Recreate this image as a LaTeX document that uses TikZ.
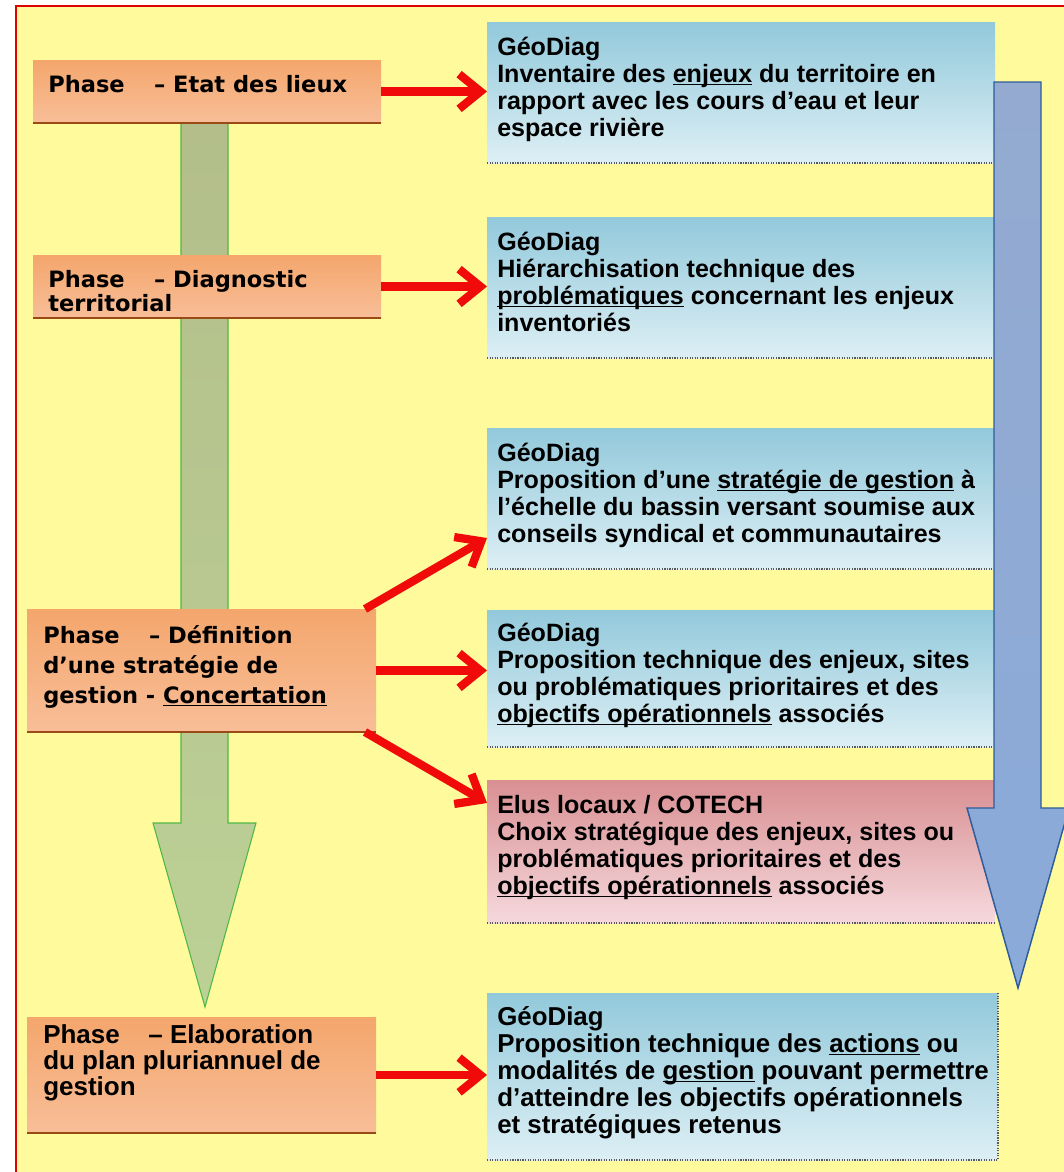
\documentclass[tikz,border=0pt]{standalone}
\usepackage{fontspec}
\setmainfont{Liberation Sans}
\newfontfamily\dvs{DejaVu Sans}
\usetikzlibrary{arrows.meta,fit,calc}
\newcommand\uln[1]{\underline{\smash{#1}}}
\definecolor{bg}{HTML}{FFFB9C}
\definecolor{framered}{HTML}{E00000}
\definecolor{arrred}{HTML}{F00A0A}
\definecolor{otop}{HTML}{F4A66C}
\definecolor{omid}{HTML}{F08636}
\definecolor{obot}{HTML}{F8BE98}
\definecolor{oline}{HTML}{9A4A14}
\definecolor{bd}{HTML}{92C9DB}
\definecolor{bl}{HTML}{DDEFF5}
\definecolor{pd}{HTML}{D98F92}
\definecolor{pl}{HTML}{F5D9DD}
\definecolor{gtop}{HTML}{B3BE8A}
\definecolor{gmid}{HTML}{9CC062}
\definecolor{gbot}{HTML}{BCD196}
\definecolor{gline}{HTML}{4DB848}
\definecolor{btop}{HTML}{94AAD0}
\definecolor{bmid}{HTML}{5082C5}
\definecolor{bbot}{HTML}{8AAAD9}
\definecolor{bline}{HTML}{2E5C9A}
\tikzset{
  obox/.style={inner sep=0pt, outer sep=0pt, top color=otop, middle color=omid, bottom color=obot},
  bbox/.style={inner sep=0pt, outer sep=0pt, top color=bd, middle color=bd!35!bl, bottom color=bl},
  pbox/.style={inner sep=0pt, outer sep=0pt, top color=pd, middle color=pd!45!pl, bottom color=pl},
  obottom/.style={draw=oline, line width=1.6pt},
  dotedge/.style={draw=black!65, densely dotted, line width=0.9pt},
  otxt/.style={inner sep=0pt, align=left, font=\dvs\bfseries\fontsize{16.9}{22.5}\selectfont},
  otxtc/.style={inner sep=0pt, align=left, font=\dvs\bfseries\fontsize{16.9}{18}\selectfont},
  otxtb/.style={inner sep=0pt, align=left, font=\bfseries\fontsize{19.5}{19.5}\selectfont},
  btxt/.style={inner sep=0pt, align=left, font=\bfseries\fontsize{18.8}{20.25}\selectfont},
  btxtb/.style={inner sep=0pt, align=left, font=\bfseries\fontsize{19.4}{20.25}\selectfont},
  redarr/.style={draw=arrred, line width=6.2pt, -{Straight Barb[length=16pt,width=26pt]}},
}
\begin{document}
\begin{tikzpicture}[x=0.75pt,y=-0.75pt]
\useasboundingbox (0,0) rectangle (1064,1172);
\fill[white] (0,0) rectangle (1064,1172);
\fill[bg] (16,6) rectangle (1064,1172);
\draw[framered, line width=1.5pt] (16,1180) -- (16,6) -- (1070,6);

% green phase arrow
\path[draw=gline, line width=0.8pt, top color=gtop, middle color=gmid, bottom color=gbot]
  (181,123) -- (228,123) -- (228,823) -- (256,823) -- (205,1007) -- (153,823) -- (181,823) -- cycle;

% orange phase boxes
\node[obox, fit={(33,60) (381,123)}] (o1) {};
\node[obox, fit={(33,255) (381,318)}] (o2) {};
\node[obox, fit={(27,609) (376,732)}] (o3) {};
\node[obox, fit={(27,1017) (376,1133)}] (o4) {};
\foreach \n in {o1,o2,o3,o4} \draw[obottom] (\n.south west) -- (\n.south east);

% (anchor base = baseline of the last line)
\node[otxt, anchor=base west] (o1t) at (48,92) {Phase\hspace*{1.3em}– Etat des lieux};
\node[otxtc, anchor=base west] (o2t) at (48,311) {Phase\hspace*{1.3em}– Diagnostic\\territorial};
\node[otxt, anchor=base west] (o3t) at (43,703) {Phase\hspace*{1.3em}– Définition\\d’une stratégie de\\gestion - \uln{Concertation}};
\node[otxtb, anchor=base west] (o4t) at (43,1095) {Phase\hspace*{1.1em}– Elaboration\\du plan pluriannuel de\\gestion};

% right boxes
\node[bbox, fit={(487,22) (995,163)}] (b1) {};
\node[bbox, fit={(487,217) (995,358)}] (b2) {};
\node[bbox, fit={(487,428) (995,569)}] (b3) {};
\node[bbox, fit={(487,610) (995,747)}] (b4) {};
\node[pbox, fit={(487,780) (995,923)}] (pk) {};
\node[bbox, fit={(487,993) (998,1160)}] (b5) {};
\foreach \n in {b1,b2,b3,b4,pk,b5} \draw[dotedge] (\n.south west) -- (\n.south east);
\draw[dotedge] (b5.north east) -- (b5.south east);

\node[btxt, anchor=base west] (b1t) at (497,136) {GéoDiag\\Inventaire des \uln{enjeux} du territoire en\\rapport avec les cours d’eau et leur\\espace rivière};
\node[btxt, anchor=base west] (b2t) at (497,331) {GéoDiag\\Hiérarchisation technique des\\\uln{problématiques} concernant les enjeux\\inventoriés};
\node[btxt, anchor=base west] (b3t) at (497,542) {GéoDiag\\Proposition d’une \uln{stratégie de gestion} à\\l’échelle du bassin versant soumise aux\\conseils syndical et communautaires};
\node[btxt, anchor=base west] (b4t) at (497,722) {GéoDiag\\Proposition technique des enjeux, sites\\ou problématiques prioritaires et des\\\uln{objectifs opérationnels} associés};
\node[btxt, anchor=base west] (pkt) at (497,894) {Elus locaux / COTECH\\Choix stratégique des enjeux, sites ou\\problématiques prioritaires et des\\\uln{objectifs opérationnels} associés};
\node[btxtb, anchor=base west] (b5t) at (497,1133) {GéoDiag\\Proposition technique des \uln{actions} ou\\modalités de \uln{gestion} pouvant permettre\\d’atteindre les objectifs opérationnels\\et stratégiques retenus};

% blue time arrow
\path[draw=bline, line width=1.1pt, top color=btop, middle color=bmid, bottom color=bbot]
  (994,82) -- (1041,82) -- (1041,808) -- (1069,808) -- (1018,988) -- (967,808) -- (994,808) -- cycle;

% red connectors
\draw[redarr] (o1.east) -- (o1.east -| b1.west);
\draw[redarr] (o2.east) -- (o2.east -| b2.west);
\draw[redarr] ([xshift=-8.25pt]o3.north east) -- ([yshift=23.25pt]b3.south west);
\draw[redarr] (o3.east) -- (o3.east -| b4.west);
\draw[redarr] ([xshift=-8.25pt]o3.south east) -- ([yshift=-17.25pt]pk.north west);
\draw[redarr] (o4.east) -- (o4.east -| b5.west);
\end{tikzpicture}
\end{document}
